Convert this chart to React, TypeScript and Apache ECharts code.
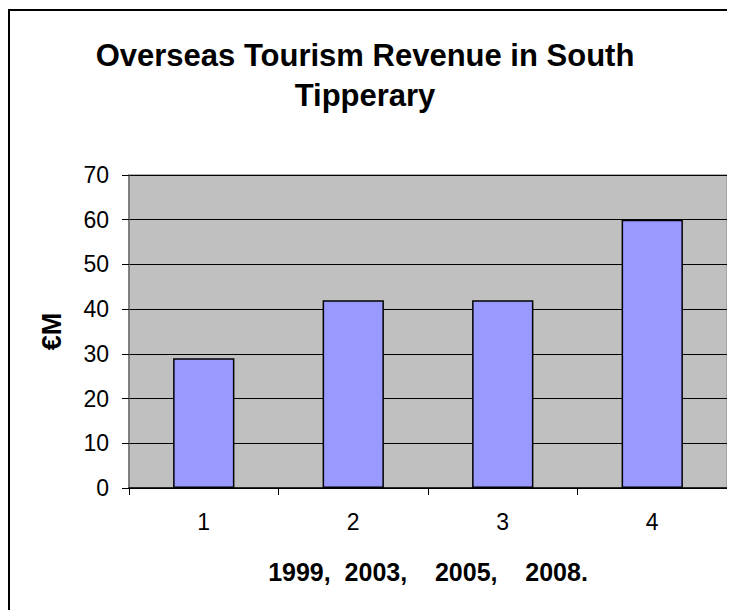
import React, { useEffect, useRef } from "react";
import * as echarts from "echarts";

const categories = ["1", "2", "3", "4"];
const revenue = [29, 42, 42, 60];
const titleText = "Overseas Tourism Revenue in South\nTipperary";
const yAxisName = "€M";
const xAxisName = "1999,  2003,    2005,    2008.";

export default function App() {
  const ref = useRef<HTMLDivElement>(null);
  useEffect(() => {
    document.documentElement.style.overflow = "hidden";
    const chart = echarts.init(ref.current!, null, { renderer: "svg" });
    const font = "'Liberation Sans', Arial, sans-serif";
    chart.setOption({
      animation: false,
      backgroundColor: "#ffffff",
      textStyle: { fontFamily: font, color: "#000" },
      title: {
        text: titleText,
        left: 355,
        top: 24,
        padding: 0,
        textAlign: "center",
        textStyle: {
          fontFamily: font,
          fontSize: 31,
          fontWeight: "bold",
          color: "#000",
          lineHeight: 40,
        },
      },
      grid: {
        left: 119,
        top: 164,
        width: 598,
        height: 313,
        show: true,
        backgroundColor: "#C0C0C0",
        borderColor: "#9a9a9a",
        borderWidth: 1.5,
      },
      xAxis: {
        type: "category",
        data: categories,
        name: xAxisName,
        nameLocation: "middle",
        nameGap: 71,
        nameTextStyle: {
          fontFamily: font,
          fontSize: 25,
          fontWeight: "bold",
          color: "#000",
        },
        axisLine: { show: true, lineStyle: { color: "#000", width: 1.5 } },
        axisTick: {
          show: true,
          alignWithLabel: false,
          length: 7,
          lineStyle: { color: "#000", width: 1 },
        },
        axisLabel: {
          fontFamily: font,
          fontSize: 23,
          color: "#000",
          margin: 22,
        },
        splitLine: { show: false },
      },
      yAxis: {
        type: "value",
        min: 0,
        max: 70,
        interval: 10,
        name: yAxisName,
        nameLocation: "middle",
        nameGap: 64,
        nameTextStyle: {
          fontFamily: font,
          fontSize: 27,
          fontWeight: "bold",
          color: "#000",
        },
        axisLine: { show: true, lineStyle: { color: "#707070", width: 1.5 } },
        axisTick: {
          show: true,
          length: 7,
          lineStyle: { color: "#000", width: 1 },
        },
        axisLabel: {
          fontFamily: font,
          fontSize: 23,
          color: "#000",
          margin: 20,
        },
        splitLine: { show: true, lineStyle: { color: "#000", width: 1 } },
      },
      series: [
        {
          type: "bar",
          data: revenue,
          barWidth: "41%",
          itemStyle: {
            color: "#9999FF",
            borderColor: "#000",
            borderWidth: 1.5,
          },
        },
      ],
    });
    return () => chart.dispose();
  }, []);
  return (
    <div
      style={{
        position: "relative",
        top: 1,
        borderTop: "2px solid #000",
        borderLeft: "2px solid #000",
        width: 760,
      }}
    >
      <div ref={ref} style={{ width: 760, height: 640 }} />
    </div>
  );
}
